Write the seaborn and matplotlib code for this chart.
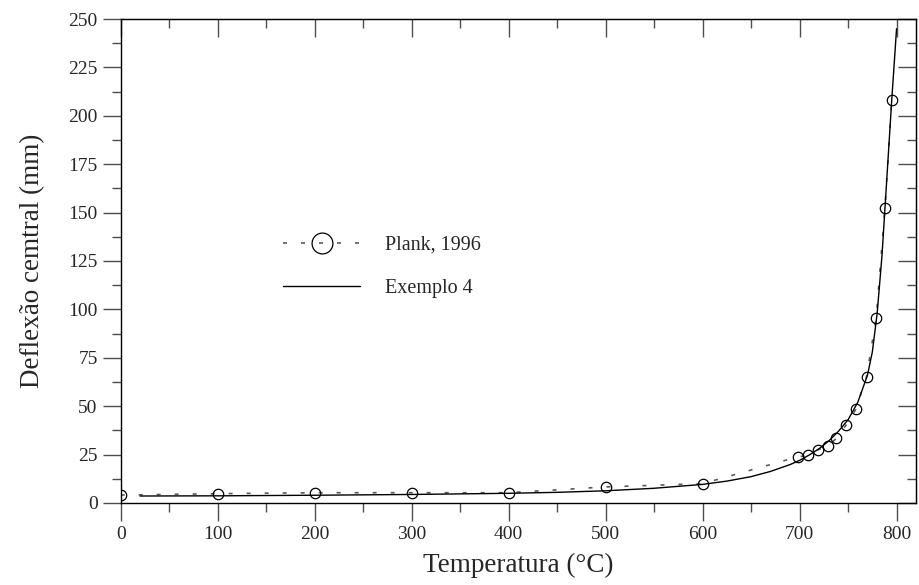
import matplotlib
matplotlib.use("Agg")
import matplotlib.pyplot as plt
import seaborn as sns
from matplotlib.ticker import MultipleLocator

# Plank, 1996 (experimental points)
plank_temp = [0, 100, 200, 300, 400, 500, 600, 698, 709, 719, 729, 738, 748, 758, 769, 779, 788, 795]
plank_defl = [4.1, 4.8, 5.3, 5.3, 5.3, 8.3, 10.0, 23.8, 24.6, 27.5, 29.4, 33.4, 40.3, 48.4, 65.2, 95.7, 152.2, 208.0]

# Exemplo 4 (numerical curve)
ex4_temp = [20, 100, 200, 300, 400, 450, 500, 550, 600, 625, 650, 670, 690, 700, 710, 720, 730, 740,
            750, 760, 770, 775, 780, 785, 790, 795, 800]
ex4_defl = [3.6, 3.7, 4.0, 4.4, 5.0, 5.5, 6.3, 7.6, 9.6, 11.3, 13.6, 16.3, 19.8, 22.0, 24.8, 28.0, 32.0, 37.0,
            43.0, 52.0, 66.0, 78.0, 98.0, 128.0, 168.0, 208.0, 245.0]

sns.set_style("ticks")
plt.rcParams["font.family"] = ["Liberation Serif", "DejaVu Serif"]

fig = plt.figure(figsize=(9.19, 5.85), dpi=100)
ax = fig.add_axes([0.1313, 0.1402, 0.8654, 0.8273])

sns.lineplot(x=plank_temp, y=plank_defl, ax=ax, color="0.35", linewidth=1.2,
             linestyle=(0, (2.4, 8.4)), marker="o", markersize=7.5,
             markerfacecolor="none", markeredgecolor="black", markeredgewidth=0.9,
             estimator=None, sort=False, label="Plank, 1996")
sns.lineplot(x=ex4_temp, y=ex4_defl, ax=ax, color="black", linewidth=1.0,
             estimator=None, sort=False, label="Exemplo 4")

ax.set_xlim(0, 820)
ax.set_ylim(0, 250)
ax.xaxis.set_major_locator(MultipleLocator(100))
ax.xaxis.set_minor_locator(MultipleLocator(50))
ax.yaxis.set_major_locator(MultipleLocator(25))
ax.yaxis.set_minor_locator(MultipleLocator(12.5))
ax.set_xticks([0, 100, 200, 300, 400, 500, 600, 700, 800])

for s in ax.spines.values():
    s.set_visible(True)
    s.set_color("black")
    s.set_linewidth(1.0)

ax.tick_params(which="major", length=13, width=1.0, direction="out", labelsize=14, color="0.3")
ax.tick_params(which="minor", length=6.5, width=1.0, direction="out", color="0.3")

top = ax.secondary_xaxis("top")
top.xaxis.set_major_locator(MultipleLocator(100))
top.xaxis.set_minor_locator(MultipleLocator(50))
top.tick_params(which="major", direction="in", length=13, width=1.0, labeltop=False, color="0.3")
top.tick_params(which="minor", direction="in", length=6.5, width=1.0, color="0.3")

right = ax.secondary_yaxis("right")
right.yaxis.set_major_locator(MultipleLocator(25))
right.yaxis.set_minor_locator(MultipleLocator(12.5))
right.tick_params(which="major", direction="in", length=13, width=1.0, labelright=False, color="0.3")
right.tick_params(which="minor", direction="in", length=6.5, width=1.0, color="0.3")

ax.set_xlabel("Temperatura (°C)", fontsize=19.5, labelpad=7)
ax.set_ylabel("Deflexão cemtral (mm)", fontsize=19.5, labelpad=17)

leg = ax.legend(loc="upper left", bbox_to_anchor=(0.181, 0.59), frameon=False,
                fontsize=14.5, handlelength=3.85, handletextpad=1.25,
                labelspacing=1.2, markerscale=2.0)

fig.savefig("out.png", dpi=100)
